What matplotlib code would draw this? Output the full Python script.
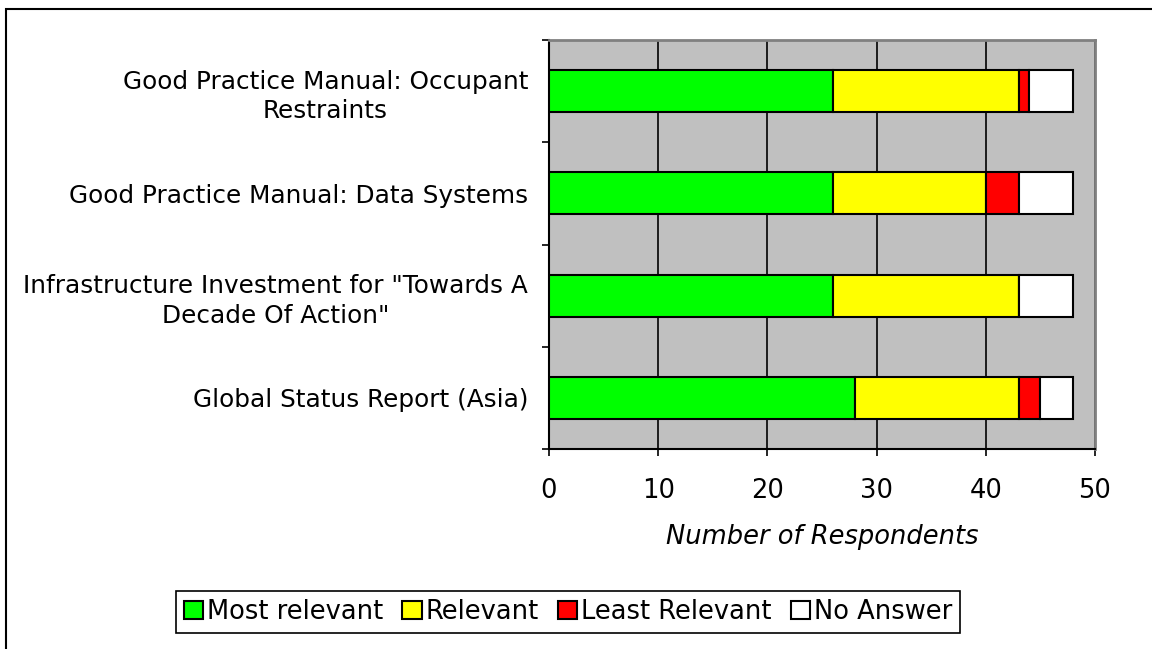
import numpy as np
import matplotlib.pyplot as plt
from matplotlib.patches import Rectangle

categories = ['Global Status Report (Asia)',
              'Infrastructure Investment for "Towards A\nDecade Of Action"',
              'Good Practice Manual: Data Systems',
              'Good Practice Manual: Occupant\nRestraints']
most_relevant = [28, 26, 26, 26]
relevant = [15, 17, 14, 17]
least_relevant = [2, 0, 3, 1]
no_answer = [3, 5, 5, 4]

series = [('Most relevant', most_relevant, '#00FF00'),
          ('Relevant', relevant, '#FFFF00'),
          ('Least Relevant', least_relevant, '#FF0000'),
          ('No Answer', no_answer, '#FFFFFF')]

plt.rcParams['font.family'] = ['DejaVu Sans']
fs = 18.5

fig = plt.figure(figsize=(11.52, 6.49), dpi=100)
W, H = 1152, 649
ax = fig.add_axes([549 / W, 1 - 449 / H, (1095 - 549) / W, (449 - 40) / H])
ax.set_facecolor('#C0C0C0')

y = np.arange(len(categories))
left = np.zeros(len(categories))
handles = []
for name, vals, col in series:
    vals = np.array(vals, dtype=float)
    b = ax.barh(y, vals, left=left, height=0.41, color=col,
                edgecolor='black', linewidth=1.5, label=name, zorder=3)
    left += vals
    handles.append(b)

ax.set_xlim(0, 50)
ax.set_ylim(-0.5, 3.5)
ax.set_xticks(range(0, 51, 10))
ax.grid(axis='x', color='black', linewidth=1.2, zorder=1)
ax.set_yticks(np.arange(-0.5, 4, 1))
ax.set_yticklabels([])
ax.set_yticks(y, minor=True)
ax.set_yticklabels(categories, minor=True, fontsize=17.8, ha='right',
                   multialignment='center', linespacing=1.3)
ax.tick_params(axis='y', which='minor', length=0, pad=15)
ax.tick_params(axis='y', which='major', length=5, direction='out', width=1.2)
ax.tick_params(axis='x', labelsize=fs, length=5, pad=16, width=1.2)
ax.set_xlabel('Number of Respondents', fontsize=fs, style='italic', labelpad=14)

for s in ['top', 'right']:
    ax.spines[s].set_color('#808080')
    ax.spines[s].set_linewidth(2)
for s in ['left', 'bottom']:
    ax.spines[s].set_color('black')
    ax.spines[s].set_linewidth(1.5)

leg = fig.legend(handles=handles, loc='center', bbox_to_anchor=(568 / W, 1 - 612 / H),
                 ncol=4, fontsize=fs, frameon=True, fancybox=False, framealpha=1,
                 handlelength=0.75, handleheight=0.75, handletextpad=0.15,
                 columnspacing=0.75, borderpad=0.3)
leg.get_frame().set_edgecolor('black')
leg.get_frame().set_linewidth(1.2)

fig.patches.append(Rectangle((6 / W, -0.1), 1.2, 1 - 9 / H + 0.1, transform=fig.transFigure,
                             fill=False, edgecolor='black', linewidth=1.5))

fig.savefig('out.png', dpi=100)
